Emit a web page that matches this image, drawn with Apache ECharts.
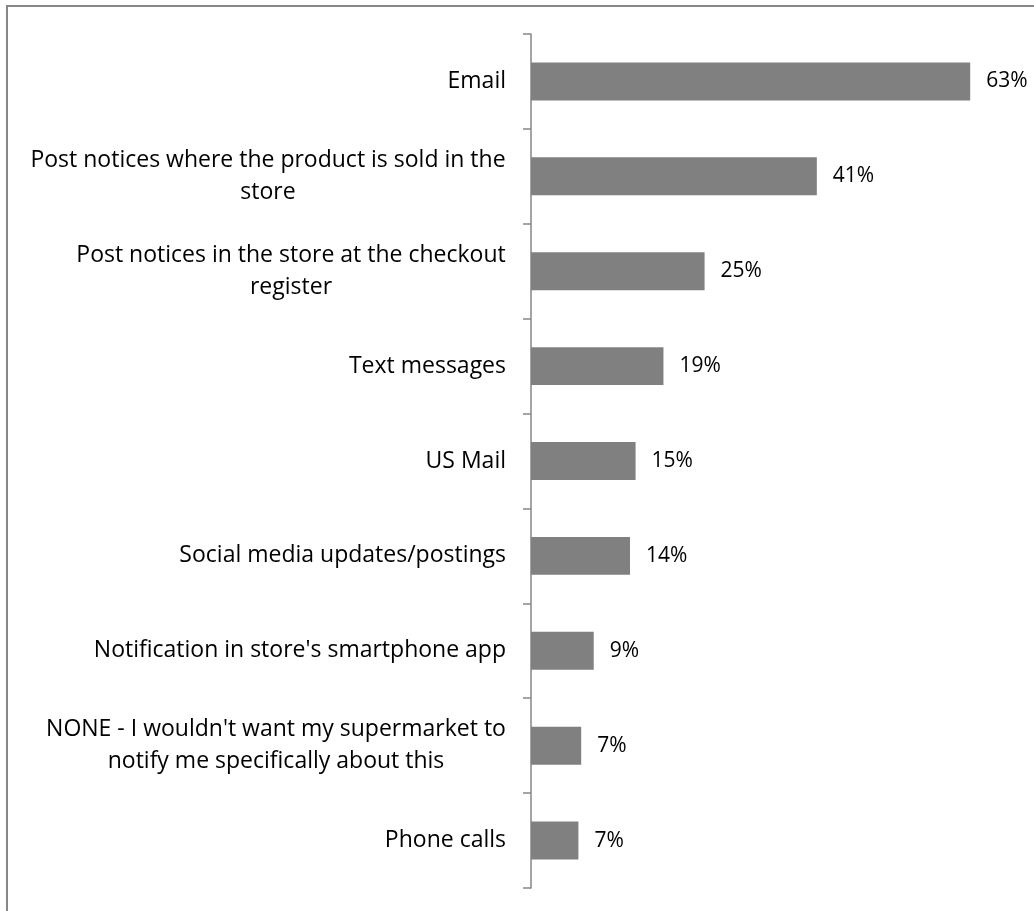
<!DOCTYPE html>
<html><head><meta charset="utf-8">
<script src="https://cdn.jsdelivr.net/npm/echarts@6/dist/echarts.min.js"></script>
<style>html,body{margin:0;padding:0;background:#fff}#c{width:1034px;height:911px}</style>
</head><body><div id="c"></div>
<script>
var categories = [
  "Email",
  "Post notices where the product is sold in the\nstore",
  "Post notices in the store at the checkout\nregister",
  "Text messages",
  "US Mail",
  "Social media updates/postings",
  "Notification in store's smartphone app",
  "NONE - I wouldn't want my supermarket to\nnotify me specifically about this",
  "Phone calls"
];
var values = [63.0, 41.0, 24.9, 19.0, 15.0, 14.2, 9.0, 7.2, 6.8];
var axisMax = 70;

var FONT = 'Open Sans';
var FS = 23, LH = 32;
var cv = document.createElement('canvas').getContext('2d');
cv.font = FS + 'px "' + FONT + '"';
var rich = {};
categories.forEach(function(c, i){
  var lines = c.split('\n');
  var w = 0;
  lines.forEach(function(l){ w = Math.max(w, cv.measureText(l).width); });
  rich['c' + i] = {width: Math.ceil(w), align: 'center', fontFamily: FONT, fontSize: FS, lineHeight: LH, color: '#000'};
});

var chart = echarts.init(document.getElementById('c'), null, {renderer: 'canvas'});
chart.setOption({
  animation: false,
  graphic: [{
    type: 'rect', shape: {x: 7, y: 6, width: 1040, height: 940},
    style: {fill: 'none', stroke: '#878787', lineWidth: 2}, z: -1
  }],
  grid: {left: 531, right: 15, top: 34, bottom: 23, containLabel: false},
  xAxis: {
    type: 'value', min: 0, max: axisMax, show: false
  },
  yAxis: {
    type: 'category', inverse: true, data: categories,
    axisLine: {show: true, lineStyle: {color: '#868686', width: 1.5}},
    axisTick: {show: true, length: 8, inside: false, lineStyle: {color: '#868686', width: 1.5}},
    axisLabel: {
      margin: 25, color: '#000', fontFamily: FONT, fontSize: FS, lineHeight: LH, align: 'right',
      rich: rich,
      formatter: function(v, i){
        var lines = v.split('\n');
        if (lines.length < 2) return v;
        return lines.map(function(l){ return '{c' + i + '|' + l + '}'; }).join('\n');
      }
    },
    splitLine: {show: false}
  },
  series: [{
    type: 'bar', data: values, barCategoryGap: '60%',
    itemStyle: {color: '#808080'},
    label: {show: true, position: 'right', distance: 16, color: '#000', fontFamily: FONT, fontSize: 21,
      formatter: function(p){ return Math.round(p.value) + '%'; }}
  }]
});
</script></body></html>
